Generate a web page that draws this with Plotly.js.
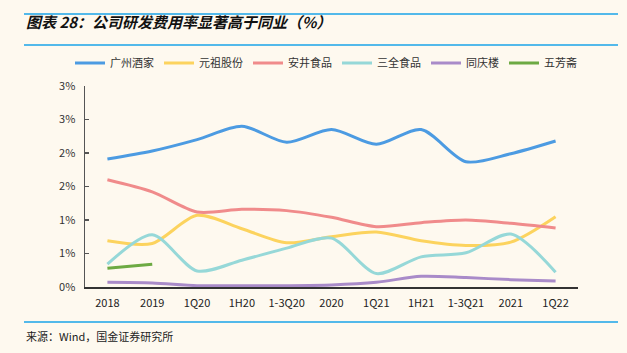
<!DOCTYPE html>
<html><head><meta charset="utf-8">
<script src="https://cdn.plot.ly/plotly-3.0.1.min.js"></script>
<style>html,body{margin:0;padding:0;background:#FEF9EF;}</style>
</head><body><div id="chart" style="width:627px;height:353px;"></div>
<script>
var categories = ["2018","2019","1Q20","1H20","1-3Q20","2020","1Q21","1H21","1-3Q21","2021","1Q22"];
var guangzhou = [1.91,2.03,2.20,2.40,2.16,2.35,2.13,2.35,1.87,1.99,2.18];
var yuanzu    = [0.69,0.65,1.07,0.87,0.66,0.75,0.82,0.69,0.62,0.67,1.05];
var anjing    = [1.60,1.42,1.12,1.16,1.14,1.04,0.90,0.96,1.00,0.95,0.88];
var sanquan   = [0.34,0.78,0.24,0.40,0.58,0.73,0.20,0.45,0.51,0.79,0.22];
var tongqing  = [0.07,0.06,0.02,0.02,0.02,0.03,0.07,0.16,0.14,0.11,0.09];
var wufangzhai = [0.28,0.34];
var tickVals = [0,0.5,1,1.5,2,2.5,3];
var tickText = ["0%","1%","1%","2%","2%","3%","3%"];

var names = ["广州酒家","元祖股份","安井食品","三全食品","同庆楼","五芳斋"];
var series = [guangzhou, yuanzu, anjing, sanquan, tongqing, wufangzhai];
var colors = ["#4C9BE2","#FCD35E","#F08B8B","#96D8D8","#A98BC9","#6DAA43"];

var traces = series.map(function(s,i){
  return {x: categories.slice(0, s.length), y: s, name: names[i], type:'scatter', mode:'lines',
    line:{color:colors[i], width:3, shape:'spline', smoothing:0.8}};
});

var L=85, R=49, T=86, B=66, W=627, H=353;
var pw = W-L-R, ph = H-T-B;
function px(x){return (x-L)/pw;}
function py(y){return (H-B-y)/ph;}

var layout = {
  width:W, height:H,
  margin:{l:L,r:R,t:T,b:B},
  paper_bgcolor:'#FEF9EF', plot_bgcolor:'#FEF9EF',
  font:{family:'"Noto Sans CJK SC", "Noto Sans", sans-serif', size:11, color:'#333'},
  showlegend:true,
  legend:{orientation:'h', x:px(70), y:py(63), xanchor:'left', yanchor:'middle',
    font:{size:11, color:'#333'}, bgcolor:'rgba(0,0,0,0)', itemwidth:30, traceorder:'normal'},
  xaxis:{type:'category', range:[-0.5,10.5], showline:true, linecolor:'#333', linewidth:1.5,
    showgrid:false, zeroline:false, ticks:'outside', ticklen:5, tickcolor:'rgba(0,0,0,0)',
    tickfont:{size:11, color:'#222'}, fixedrange:true},
  yaxis:{range:[0,3], tickvals:tickVals, ticktext:tickText, showline:true, linecolor:'#555', linewidth:1.5,
    showgrid:false, zeroline:false, ticks:'inside', ticklen:4, tickcolor:'#555', tickwidth:1.5,
    ticklabelstandoff:6, tickfont:{size:11, color:'#333'}, fixedrange:true},
  shapes:[
    {type:'line', xref:'paper', yref:'paper', x0:px(24), x1:px(618), y0:py(14), y1:py(14), line:{color:'#1AA3E8', width:1.5}},
    {type:'line', xref:'paper', yref:'paper', x0:px(24), x1:px(618), y0:py(45), y1:py(45), line:{color:'#1AA3E8', width:1.5}},
    {type:'line', xref:'paper', yref:'paper', x0:px(24), x1:px(618), y0:py(322), y1:py(322), line:{color:'#1AA3E8', width:1.5}}
  ],
  annotations:[
    {xref:'paper', yref:'paper', x:px(24), y:py(21), xanchor:'left', yanchor:'middle', showarrow:false,
     text:'<b><i>图表 28：公司研发费用率显著高于同业（%）</i></b>', font:{size:15, color:'#111'}},
    {xref:'paper', yref:'paper', x:px(24), y:py(336), xanchor:'left', yanchor:'middle', showarrow:false,
     text:'来源：Wind，国金证券研究所', font:{size:11, color:'#222'}}
  ]
};
Plotly.newPlot('chart', traces, layout, {displayModeBar:false, staticPlot:true});
</script></body></html>
